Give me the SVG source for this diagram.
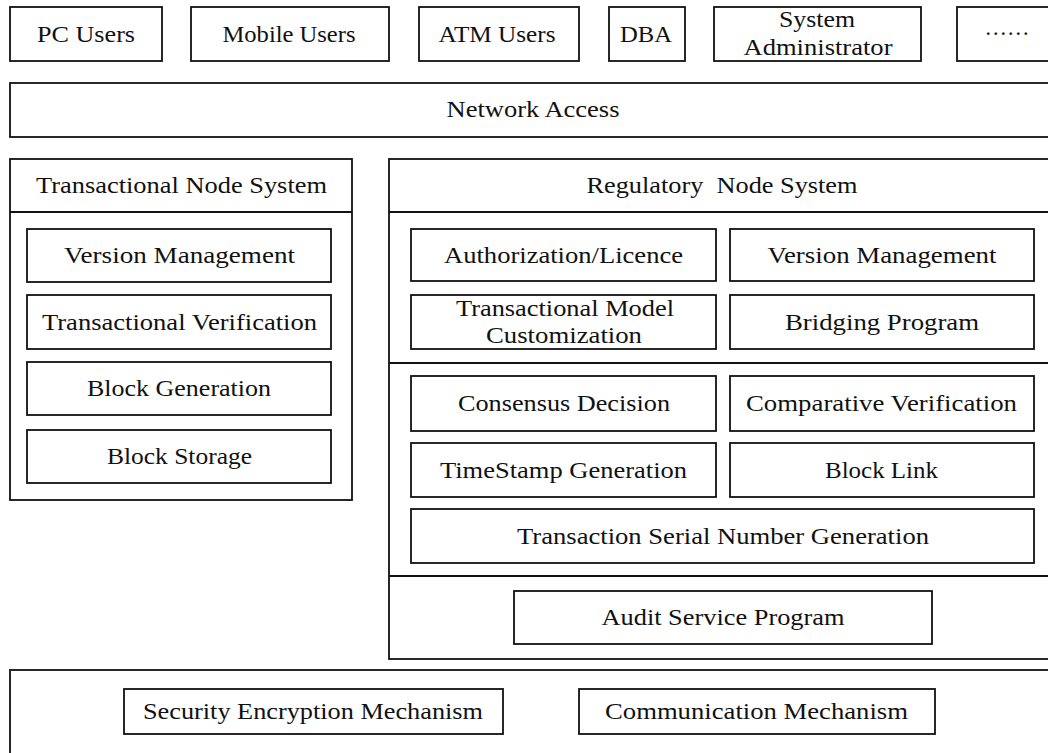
<svg xmlns="http://www.w3.org/2000/svg" width="1048" height="753" viewBox="0 0 1048 753">
  <style>
    .box { fill: #ffffff; stroke: #111111; stroke-width: 1.8; }
    .div { stroke: #111111; stroke-width: 1.8; fill: none; }
    .t { font-family: "Liberation Serif", "DejaVu Serif", serif; font-size: 24px; fill: #111111; text-anchor: middle; }
  </style>
  <rect width="1048" height="753" fill="#ffffff"/>

  <!-- user roles -->
  <g id="pc-users">
    <rect class="box" x="10" y="7" width="152" height="54"/>
    <text class="t" x="86" y="42" textLength="98" lengthAdjust="spacingAndGlyphs">PC Users</text>
  </g>
  <g id="mobile-users">
    <rect class="box" x="191" y="7" width="198" height="54"/>
    <text class="t" x="289" y="42" textLength="133" lengthAdjust="spacingAndGlyphs">Mobile Users</text>
  </g>
  <g id="atm-users">
    <rect class="box" x="419" y="7" width="160" height="54"/>
    <text class="t" x="497" y="42" textLength="117" lengthAdjust="spacingAndGlyphs">ATM Users</text>
  </g>
  <g id="dba">
    <rect class="box" x="609" y="7" width="76" height="54"/>
    <text class="t" x="646" y="42" textLength="52" lengthAdjust="spacingAndGlyphs">DBA</text>
  </g>
  <g id="system-administrator">
    <rect class="box" x="714" y="7" width="207" height="54"/>
    <text class="t" x="817" y="27" textLength="76" lengthAdjust="spacingAndGlyphs">System</text>
    <text class="t" x="818" y="55" textLength="149" lengthAdjust="spacingAndGlyphs">Administrator</text>
  </g>
  <g id="more-users">
    <rect class="box" x="957" y="7" width="100" height="54"/>
    <text class="t" x="1007" y="35" textLength="45" lengthAdjust="spacingAndGlyphs">……</text>
  </g>

  <!-- network layer -->
  <g id="network-access">
    <rect class="box" x="10" y="83" width="1050" height="54"/>
    <text class="t" x="533" y="117" textLength="173" lengthAdjust="spacingAndGlyphs">Network Access</text>
  </g>

  <!-- transactional node system -->
  <g id="transactional-node-system">
    <rect class="box" x="10" y="159" width="342" height="341"/>
    <line class="div" x1="10" y1="212" x2="352" y2="212"/>
    <text class="t" x="181.5" y="193" textLength="291" lengthAdjust="spacingAndGlyphs">Transactional Node System</text>
  </g>
  <g id="tn-version-management">
    <rect class="box" x="27" y="229" width="304" height="53"/>
    <text class="t" x="179.5" y="263" textLength="231" lengthAdjust="spacingAndGlyphs">Version Management</text>
  </g>
  <g id="tn-transactional-verification">
    <rect class="box" x="27" y="295" width="304" height="54"/>
    <text class="t" x="179.5" y="330" textLength="275" lengthAdjust="spacingAndGlyphs">Transactional Verification</text>
  </g>
  <g id="tn-block-generation">
    <rect class="box" x="27" y="362" width="304" height="53"/>
    <text class="t" x="179" y="396" textLength="184" lengthAdjust="spacingAndGlyphs">Block Generation</text>
  </g>
  <g id="tn-block-storage">
    <rect class="box" x="27" y="430" width="304" height="53"/>
    <text class="t" x="179.5" y="464" textLength="145" lengthAdjust="spacingAndGlyphs">Block Storage</text>
  </g>

  <!-- regulatory node system -->
  <g id="regulatory-node-system">
    <rect class="box" x="389" y="159" width="670" height="500"/>
    <line class="div" x1="389" y1="212" x2="1059" y2="212"/>
    <line class="div" x1="389" y1="363" x2="1059" y2="363"/>
    <line class="div" x1="389" y1="576" x2="1059" y2="576"/>
    <text class="t" x="722" y="193" textLength="271" lengthAdjust="spacingAndGlyphs" xml:space="preserve">Regulatory  Node System</text>
  </g>
  <g id="rn-authorization">
    <rect class="box" x="411" y="229" width="305" height="52"/>
    <text class="t" x="563.5" y="263" textLength="239" lengthAdjust="spacingAndGlyphs">Authorization/Licence</text>
  </g>
  <g id="rn-version-management">
    <rect class="box" x="730" y="229" width="304" height="52"/>
    <text class="t" x="882" y="263" textLength="229" lengthAdjust="spacingAndGlyphs">Version Management</text>
  </g>
  <g id="rn-model-customization">
    <rect class="box" x="411" y="295" width="305" height="54"/>
    <text class="t" x="565" y="316" textLength="218" lengthAdjust="spacingAndGlyphs">Transactional Model</text>
    <text class="t" x="564" y="343" textLength="156" lengthAdjust="spacingAndGlyphs">Customization</text>
  </g>
  <g id="rn-bridging-program">
    <rect class="box" x="730" y="295" width="304" height="54"/>
    <text class="t" x="882" y="330" textLength="194" lengthAdjust="spacingAndGlyphs">Bridging Program</text>
  </g>
  <g id="rn-consensus-decision">
    <rect class="box" x="411" y="376" width="305" height="55"/>
    <text class="t" x="564" y="411" textLength="212" lengthAdjust="spacingAndGlyphs">Consensus Decision</text>
  </g>
  <g id="rn-comparative-verification">
    <rect class="box" x="730" y="376" width="304" height="55"/>
    <text class="t" x="881.5" y="411" textLength="271" lengthAdjust="spacingAndGlyphs">Comparative Verification</text>
  </g>
  <g id="rn-timestamp-generation">
    <rect class="box" x="411" y="443" width="305" height="54"/>
    <text class="t" x="563.5" y="478" textLength="247" lengthAdjust="spacingAndGlyphs">TimeStamp Generation</text>
  </g>
  <g id="rn-block-link">
    <rect class="box" x="730" y="443" width="304" height="54"/>
    <text class="t" x="881.5" y="478" textLength="113" lengthAdjust="spacingAndGlyphs">Block Link</text>
  </g>
  <g id="rn-serial-number-generation">
    <rect class="box" x="411" y="509" width="623" height="54"/>
    <text class="t" x="723" y="544" textLength="412" lengthAdjust="spacingAndGlyphs">Transaction Serial Number Generation</text>
  </g>
  <g id="rn-audit-service">
    <rect class="box" x="514" y="591" width="418" height="53"/>
    <text class="t" x="723" y="625" textLength="243" lengthAdjust="spacingAndGlyphs">Audit Service Program</text>
  </g>

  <!-- infrastructure layer -->
  <g id="infrastructure">
    <rect class="box" x="10" y="670" width="1050" height="100"/>
  </g>
  <g id="security-encryption">
    <rect class="box" x="124" y="689" width="379" height="45"/>
    <text class="t" x="313" y="719" textLength="340" lengthAdjust="spacingAndGlyphs">Security Encryption Mechanism</text>
  </g>
  <g id="communication">
    <rect class="box" x="579" y="689" width="356" height="45"/>
    <text class="t" x="756.5" y="719" textLength="303" lengthAdjust="spacingAndGlyphs">Communication Mechanism</text>
  </g>
</svg>
